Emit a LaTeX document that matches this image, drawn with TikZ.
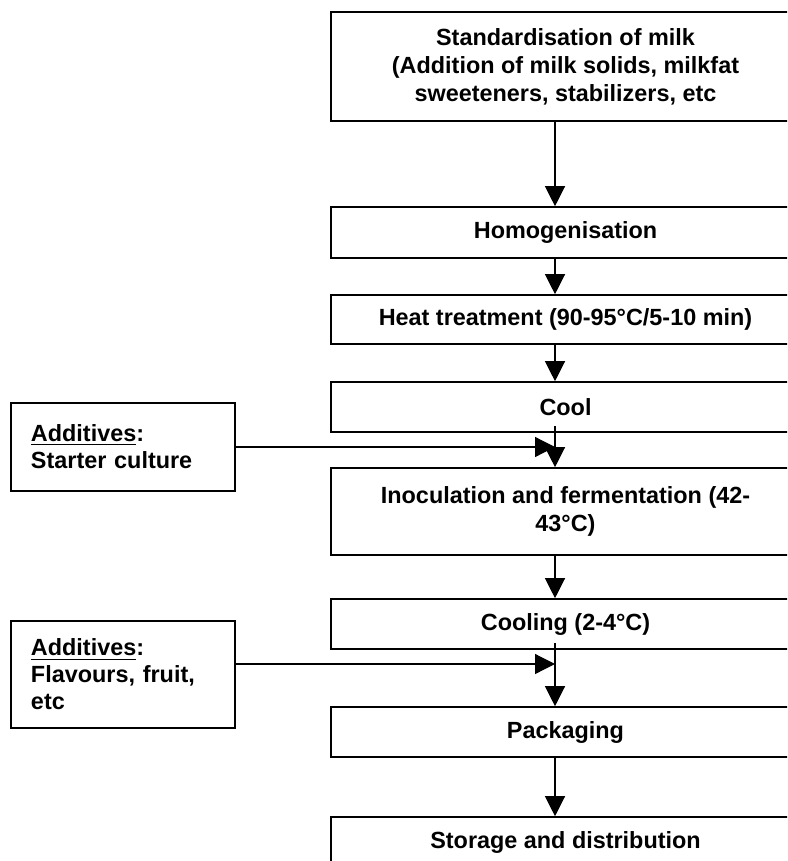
\documentclass[tikz,border=0pt]{standalone}
\usepackage{fontspec}
\setmainfont{Liberation Sans}
\usetikzlibrary{arrows.meta}

\begin{document}
\begin{tikzpicture}[
x=0.5pt, y=-0.5pt,
 font=\fontsize{11.7}{14}\selectfont\bfseries,
 stage/.style = {rectangle, draw, line width=0.8pt,% boxes of the process line
                 minimum width=234.5pt, inner sep=2pt, align=center},
   add/.style = {rectangle, draw, line width=0.8pt,% boxes of the additives
                 text width=92pt, inner xsep=10pt, align=left,
                 font=\fontsize{11.7}{13.5}\selectfont\bfseries},
  flow/.style = {-{Triangle[length=10pt,width=10pt]}, line width=0.6pt},
                    ]
\useasboundingbox (0,0) rectangle (787,861);
\clip (0,0) rectangle (787,861);
% process line
\node[stage, minimum height=54.5pt] (std)     at (565.5,66.5)  {Standardisation of milk\\(Addition of milk solids, milkfat\\sweeteners, stabilizers, etc};
\node[stage, minimum height=25.5pt] (homo)    at (565.5,232.5) {Homogenisation};
\node[stage, minimum height=24.5pt] (heat)    at (565.5,319.5) {Heat treatment (90-95°C/5-10 min)};
\node[stage, minimum height=25pt]   (cool)    at (565.5,407)   {Cool};
\node[stage, minimum height=43.5pt] (inoc)    at (565.5,511.5) {Inoculation and fermentation (42-\\43°C)};
\node[stage, minimum height=25pt]   (cooling) at (565.5,624)   {Cooling (2-4°C)};
\node[stage, minimum height=25pt]   (pack)    at (565.5,732)   {Packaging};
\node[stage, minimum height=25pt]   (store)   at (565.5,842)   {Storage and distribution};
% additives
\node[add, minimum height=44pt]   (add1) at (123,447)   {\underline{Additives}:\\Starter culture};
\node[add, minimum height=53.5pt] (add2) at (123,674.5) {\underline{Additives}:\\Flavours, fruit,\\etc};
\coordinate (spine) at (555,0);
\coordinate (in2) at ([yshift=5.25pt]add2.east);
% arrows
\draw[flow] (std.south -| spine) -- (homo.north -| spine);
\draw[flow] (homo.south -| spine) -- (heat.north -| spine);
\draw[flow] (heat.south -| spine) -- (cool.north -| spine);
\draw[flow] (cool.south -| spine) ++(0,-7) -- (inoc.north -| spine);
\draw[flow] (inoc.south -| spine) -- (cooling.north -| spine);
\draw[flow] (cooling.south -| spine) ++(0,-7) -- (pack.north -| spine);
\draw[flow] (pack.south -| spine) -- (store.north -| spine);
\draw[flow] (add1.east) -- (add1.east -| spine);
\draw[flow] (in2) -- (in2 -| spine);
\end{tikzpicture}
\end{document}
